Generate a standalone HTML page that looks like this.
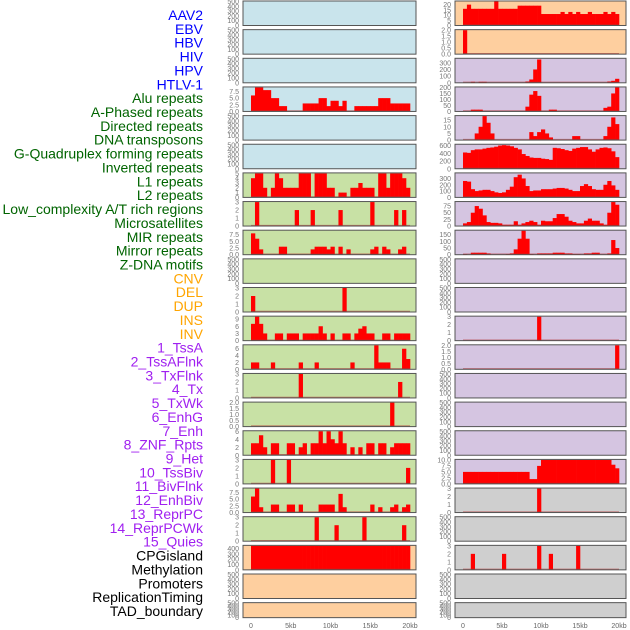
<!DOCTYPE html>
<html><head><meta charset="utf-8"><style>
html,body{margin:0;padding:0;background:#fff;}
svg{display:block;font-family:"Liberation Sans",sans-serif;}
</style></head><body>
<svg id="chart" width="630" height="630" viewBox="0 0 630 630" xmlns="http://www.w3.org/2000/svg"></svg>
<script>
// ---- labels ----
const labelNames = ["AAV2","EBV","HBV","HIV","HPV","HTLV-1","Alu repeats","A-Phased repeats","Directed repeats","DNA transposons","G-Quadruplex forming repeats","Inverted repeats","L1 repeats","L2 repeats","Low_complexity A/T rich regions","Microsatellites","MIR repeats","Mirror repeats","Z-DNA motifs","CNV","DEL","DUP","INS","INV","1_TssA","2_TssAFlnk","3_TxFlnk","4_Tx","5_TxWk","6_EnhG","7_Enh","8_ZNF_Rpts","9_Het","10_TssBiv","11_BivFlnk","12_EnhBiv","13_ReprPC","14_ReprPCWk","15_Quies","CPGisland","Methylation","Promoters","ReplicationTiming","TAD_boundary"];
const labelGroups = [0,0,0,0,0,0,1,1,1,1,1,1,1,1,1,1,1,1,1,2,2,2,2,2,3,3,3,3,3,3,3,3,3,3,3,3,3,3,3,4,4,4,4,4];
const groupColors = ["#0000ff","#006400","#ffa500","#a020f0","#000000"];

// ---- x axis ----
const xTickValues = [0,5000,10000,15000,20000];
const xTickLabels = ["0","5kb","10kb","15kb","20kb"];
const binSize = 500;

// ---- panel data: 40 bins of 500bp each ----
const E = [];
const L_alu = [6,9,9,8,8,5,5,2,2,0,0,0,0,3,3,3,3,5,5,2,4,4,2,4,0,0,2,2,2,2,2,2,5,5,5,3,3,3,3,3];
const L_l1 = [4,5,5,2,0,2,5,4,2,2,2,2,5,5,5,0,5,5,5,2,2,0,1,1,0,2,2,3,2,2,2,0,5,5,2,5,5,5,4,2];
const L_row7 = [0,3,0,0,0,0,0,0,0,0,0,2,0,0,0,2,0,0,0,0,0,0,2,0,0,0,0,0,0,0,3,0,0,0,0,0,2,0,2,0];
const L_row8 = [8,6,2,0,0,0,0,3,3,0,0,0,0,0,0,2,3,3,3,2,3,0,3,0,2,0,0,0,0,0,2,3,0,3,2,0,0,2,3,0];
const L_row10 = [2,0,0,0,0,0,0,0,0,0,0,0,0,0,0,0,0,0,0,0,0,0,0,3,0,0,0,0,0,0,0,0,0,0,0,0,0,0,0,0];
const L_row11 = [7,10,7,3,0,0,3,3,0,3,3,3,0,3,3,3,3,6,3,0,3,0,0,3,3,0,3,5,6,3,3,0,0,3,3,0,3,3,3,3];
const L_row12 = [2,2,0,0,0,2,0,0,0,0,0,0,2,0,0,0,2,0,0,0,0,0,0,0,0,2,0,0,0,0,0,7,2,2,2,0,0,0,6,3];
const L_row13 = [0,0,0,0,0,0,0,0,0,0,0,0,3,0,0,0,0,0,0,0,0,0,0,0,0,0,0,0,0,0,0,0,0,0,0,0,0,2,0,0];
const L_row14 = [0,0,0,0,0,0,0,0,0,0,0,0,0,0,0,0,0,0,0,0,0,0,0,0,0,0,0,0,0,0,0,0,0,0,0,2,0,0,0,0];
const L_row15 = [3,3,5,2,0,3,3,0,0,3,3,0,2,3,0,3,3,6,3,6,4,3,6,3,0,2,0,2,0,3,3,0,3,3,0,2,3,3,3,3];
const L_row16 = [0,0,0,0,0,3,0,0,0,3,0,0,0,0,0,0,0,0,0,0,0,0,0,0,0,0,0,0,0,0,0,0,0,0,0,0,0,0,0,2];
const L_row17 = [6,9,2,0,0,3,3,0,0,3,3,0,3,0,0,0,0,3,3,3,3,0,7,2,0,0,0,0,0,0,3,0,2,0,0,2,3,0,2,3];
const L_row18 = [0,0,0,0,0,0,0,0,0,0,0,0,0,0,0,0,3,0,0,0,0,2,0,0,0,0,0,0,3,0,0,0,0,0,0,0,0,0,2,0];
const L_row19 = [450,450,450,450,450,450,450,450,450,450,450,450,450,450,450,450,450,450,450,450,450,450,450,450,450,450,450,450,450,450,450,450,450,450,450,450,450,450,450,450];
const R_row0 = [16,20,16,16,16,16,16,16,23,16,16,16,16,16,19,19,19,19,19,19,11,11,11,11,11,13,11,13,11,13,11,11,13,11,11,11,13,11,13,11];
const R_row1 = [2,0,0,0,0,0,0,0,0,0,0,0,0,0,0,0,0,0,0,0,0,0,0,0,0,0,0,0,0,0,0,0,0,0,0,0,0,0,0,0];
const R_row2 = [0,0,15,0,15,15,0,0,0,0,0,0,0,0,0,0,20,50,200,350,0,0,0,0,0,0,0,0,0,0,0,0,0,0,0,0,0,20,30,60];
const R_row3 = [0,0,15,15,15,0,0,0,0,0,0,0,0,0,0,0,40,140,170,130,0,0,15,15,0,0,0,0,0,0,0,0,0,0,0,0,30,40,150,200];
const R_row4 = [0,0,0,5,10,18,13,5,0,0,0,0,0,0,0,0,0,6,3,6,8,5,2,0,0,0,0,0,3,3,0,0,0,0,0,0,3,10,17,12];
const R_row5 = [420,410,480,500,500,520,540,550,570,600,610,600,580,540,500,380,330,290,280,280,260,250,230,540,530,510,480,460,520,540,560,560,500,440,500,540,550,530,450,300];
const R_row6 = [260,250,130,100,110,120,120,100,80,70,80,120,170,320,360,300,180,100,110,110,130,130,130,140,150,150,140,120,100,100,180,210,180,130,120,120,200,260,190,120];
const R_row7 = [10,15,50,75,65,40,15,12,12,10,5,5,5,18,5,10,15,20,15,5,20,18,18,30,45,45,35,20,15,10,10,20,28,20,20,10,5,50,90,80];
const R_row8 = [5,0,15,15,15,15,10,0,0,0,0,5,10,40,120,180,120,5,0,10,10,10,10,15,15,15,10,10,5,5,0,10,10,15,15,0,0,10,110,50];
const R_row11 = [0,0,0,0,0,0,0,0,0,0,0,0,0,0,0,0,0,0,0,3,0,0,0,0,0,0,0,0,0,0,0,0,0,0,0,0,0,0,0,0];
const R_row12 = [0,0,0,0,0,0,0,0,0,0,0,0,0,0,0,0,0,0,0,0,0,0,0,0,0,0,0,0,0,0,0,0,0,0,0,0,0,0,0,2];
const R_row16 = [5,5,5,5,5,5,5,5,5,5,5,5,5,5,5,5,5,2,2,7.5,10,10,10,10,10,10,10,10,10,10,10,10,10,10,10,10,10,10,8,6.5];
const R_row17 = [0,0,0,0,0,0,0,0,0,0,0,0,0,0,0,0,0,0,0,3,0,0,0,0,0,0,0,0,0,0,0,0,0,0,0,0,0,0,0,0];
const R_row19 = [0,0,2,0,0,0,0,0,0,0,2,0,0,0,0,0,0,0,0,3,0,0,2,0,0,0,0,0,0,3,0,0,0,0,0,0,0,0,0,0];

// ---- y tick sets ----
const T_empty = [0,100,200,300,400,500];
const T_alu = [0,2.5,5,7.5];
const T_five = [0,1,2,3,4,5];
const T_three = [0,1,2,3];
const T_two = [0,0.5,1,1.5,2];
const T_nine = [0,3,6,9];
const T_six = [0,2,4,6];
const T_cpg = [0,100,200,300,400];
const T_r0 = [0,5,10,15,20];
const T_r2 = [0,100,200,300];
const T_r3 = [0,50,100,150,200];
const T_r4 = [0,5,10,15];
const T_r5 = [0,200,400,600];
const T_r7 = [0,25,50,75];
const T_r8 = [0,50,100,150];
const T_r16 = [0,2.5,5,7.5,10];

const BLUE="#c9e4ec", GREEN="#c8e1a5", ORANGE="#fecf9f", LAV="#d5c5e1", GREY="#cfcfcf";
// [data, ymax, ticks, bg]
const leftPanels = [
 [E,500,T_empty,BLUE],[E,500,T_empty,BLUE],[E,500,T_empty,BLUE],[L_alu,9,T_alu,BLUE],[E,500,T_empty,BLUE],[E,500,T_empty,BLUE],
 [L_l1,5,T_five,GREEN],[L_row7,3,T_three,GREEN],[L_row8,9,T_alu,GREEN],[E,500,T_empty,GREEN],[L_row10,3,T_three,GREEN],
 [L_row11,10,T_nine,GREEN],[L_row12,7,T_six,GREEN],[L_row13,3,T_three,GREEN],[L_row14,2,T_two,GREEN],[L_row15,6,T_six,GREEN],
 [L_row16,3,T_three,GREEN],[L_row17,9,T_alu,GREEN],[L_row18,3,T_three,GREEN],[L_row19,450,T_cpg,ORANGE],[E,500,T_empty,ORANGE],[E,500,T_empty,ORANGE]
];
const rightPanels = [
 [R_row0,23,T_r0,ORANGE],[R_row1,2,T_two,ORANGE],[R_row2,360,T_r2,LAV],[R_row3,200,T_r3,LAV],[R_row4,18,T_r4,LAV],[R_row5,620,T_r5,LAV],
 [R_row6,380,T_r2,LAV],[R_row7,90,T_r7,LAV],[R_row8,180,T_r8,LAV],[E,500,T_empty,LAV],[E,500,T_empty,LAV],
 [R_row11,3,T_three,LAV],[R_row12,2,T_two,LAV],[E,500,T_empty,LAV],[E,500,T_empty,LAV],[E,500,T_empty,LAV],
 [R_row16,10,T_r16,LAV],[R_row17,3,T_three,GREY],[E,500,T_empty,GREY],[R_row19,3,T_three,GREY],[E,500,T_empty,GREY],[E,500,T_empty,GREY]
];

const NS="http://www.w3.org/2000/svg";
const svg=document.getElementById('chart');
function mk(tag,attrs,parent){const e=document.createElementNS(NS,tag);for(const k in attrs)e.setAttribute(k,attrs[k]);(parent||svg).appendChild(e);return e;}

// labels
labelNames.forEach((n,i)=>{
  const t=mk('text',{x:203,y:15+i*13.86+5,'text-anchor':'end','font-size':'14',fill:groupColors[labelGroups[i]]});
  
  
  t.textContent=n;
});

const cols=[{px:243,pw:173,x0:251,x1:410,panels:leftPanels,name:'left'},{px:455,pw:171,x0:463,x1:619,panels:rightPanels,name:'right'}];
cols.forEach(c=>{
  const xs=v=>c.x0+(v/20000)*(c.x1-c.x0);
  c.panels.forEach((p,i)=>{
    const [data,ymax,ticks,bg]=p;
    const top=1+i*28.65, h=(i===21)?15:24.5, bottom=top+h;
    const g=mk('g',{});
    
    
    mk('rect',{x:c.px,y:top,width:c.pw,height:h,fill:bg},g);
    const ys=v=>bottom-(v/ymax)*(h-0.5);
    data.forEach((v,b)=>{
      if(!v)return;
      const xa=xs(b*binSize), xb=xs((b+1)*binSize);
      const r=mk('rect',{x:xa,y:ys(v),width:xb-xa+0.3,height:bottom-ys(v),fill:'#ff0000'},g);
      
      
    });
    if(data.length) mk('line',{x1:xs(0),x2:xs(20000),y1:bottom-0.7,y2:bottom-0.7,stroke:'#b03030','stroke-width':1,'stroke-opacity':0.6},g);
    mk('rect',{x:c.px,y:top,width:c.pw,height:h,fill:'none',stroke:'#555','stroke-width':1},g);
    ticks.forEach(tv=>{
      const t=mk('text',{x:c.px-4,y:ys(tv)+2.5,'text-anchor':'end','font-size':'7',fill:'#777'},g);
      
      
      t.textContent=String(ticks.some(q=>q%1)?tv.toFixed(1):tv);
    });
  });
  xTickValues.forEach((v,k)=>{
    const t=mk('text',{x:xs(v),y:628,'text-anchor':'middle','font-size':'7',fill:'#666'});
    
    
    t.textContent=xTickLabels[k];
  });
});
</script>
</body></html>
